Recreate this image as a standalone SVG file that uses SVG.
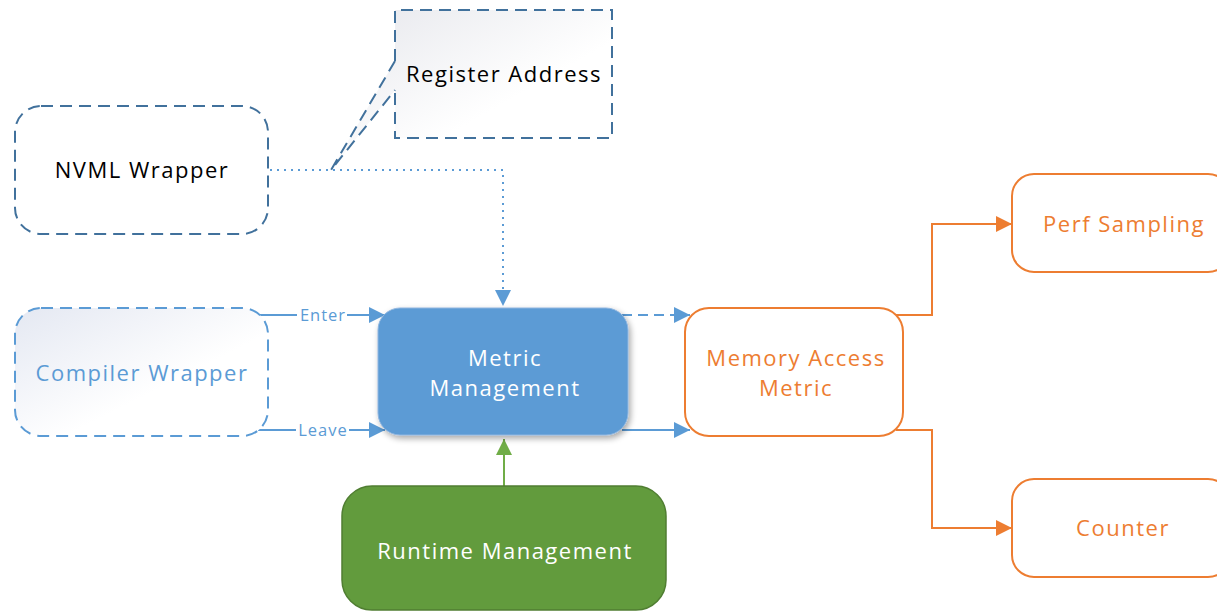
<svg xmlns="http://www.w3.org/2000/svg" width="1217" height="613" viewBox="0 0 1217 613">
<defs>
<linearGradient id="gGray" x1="0" y1="0" x2="1" y2="1"><stop offset="0" stop-color="#e6e7ec"/><stop offset="0.6" stop-color="#ffffff"/></linearGradient>
<linearGradient id="gBlue" x1="0" y1="0" x2="1" y2="1"><stop offset="0" stop-color="#e4e8f2"/><stop offset="0.6" stop-color="#ffffff"/></linearGradient>
<filter id="sh" x="-10%" y="-10%" width="125%" height="130%"><feGaussianBlur in="SourceAlpha" stdDeviation="3"/><feOffset dx="2" dy="3"/><feComponentTransfer><feFuncA type="linear" slope="0.35"/></feComponentTransfer><feMerge><feMergeNode/><feMergeNode in="SourceGraphic"/></feMerge></filter>
<marker id="aB" viewBox="0 0 10 10" refX="10" refY="5" markerWidth="18" markerHeight="16" markerUnits="userSpaceOnUse" orient="auto"><path d="M0,0 L10,5 L0,10 z" fill="#5b9bd5"/></marker>
<marker id="aO" viewBox="0 0 10 10" refX="10" refY="5" markerWidth="18" markerHeight="16" markerUnits="userSpaceOnUse" orient="auto"><path d="M0,0 L10,5 L0,10 z" fill="#ed7d31"/></marker>
<marker id="aG" viewBox="0 0 10 10" refX="10" refY="5" markerWidth="18" markerHeight="16" markerUnits="userSpaceOnUse" orient="auto"><path d="M0,0 L10,5 L0,10 z" fill="#70ad47"/></marker>
</defs>
<style>
text{font-family:"Open Sans","Noto Sans",sans-serif;text-anchor:middle;}
.t{font-size:22px;letter-spacing:1.5px;}
.dk{fill:none;stroke:#41719c;stroke-width:2;stroke-dasharray:12 7;}
.lb{stroke:#5b9bd5;stroke-width:2;stroke-dasharray:12 7;}
.or{fill:#fff;stroke:#ed7d31;stroke-width:2;}
.c{fill:none;stroke-width:2;}
.lbl{font-size:16.5px;fill:#5b9bd5;letter-spacing:1px;}
</style>
<rect width="1217" height="613" fill="#fff"/>
<g id="connectors">
<path d="M270,170 H503 V306" class="c" stroke="#5b9bd5" stroke-dasharray="2 5" marker-end="url(#aB)"/>
<path d="M258,315 H385" class="c" stroke="#5b9bd5" marker-end="url(#aB)"/>
<path d="M258,430 H385" class="c" stroke="#5b9bd5" marker-end="url(#aB)"/>
<path d="M622,315 H690" class="c" stroke="#5b9bd5" stroke-dasharray="10 6" marker-end="url(#aB)"/>
<path d="M622,430 H690" class="c" stroke="#5b9bd5" marker-end="url(#aB)"/>
<path d="M504,486 V439" class="c" stroke="#70ad47" stroke-width="2.5" marker-end="url(#aG)"/>
<path d="M896,315 H932 V224 H1012" class="c" stroke="#ed7d31" stroke-width="2.5" marker-end="url(#aO)"/>
<path d="M896,430 H932 V528 H1012" class="c" stroke="#ed7d31" stroke-width="2.5" marker-end="url(#aO)"/>
<rect x="297" y="307" width="50" height="17" fill="#fff"/>
<text x="323" y="321" class="lbl">Enter</text>
<rect x="296" y="422" width="53" height="17" fill="#fff"/>
<text x="323" y="436" class="lbl">Leave</text>
</g>
<g id="register-address">
<path d="M395,10 H612 V138 H395 V90 L331,170 L395,61 Z" fill="url(#gGray)" stroke="none"/>
<path d="M395,61 V10 H612 V138 H395 V90" class="dk"/>
<path d="M395,61 L331,170 L395,90" class="dk"/>
<text x="504" y="82" class="t" fill="#000">Register Address</text>
</g>
<g id="nvml-wrapper">
<rect x="15" y="106" width="253" height="128" rx="26" fill="#fff" class="dk"/>
<text x="142" y="178" class="t" fill="#000">NVML Wrapper</text>
</g>
<g id="compiler-wrapper">
<rect x="15" y="308" width="253" height="128" rx="26" fill="url(#gBlue)" class="lb"/>
<text x="142" y="381" class="t" fill="#5b9bd5">Compiler Wrapper</text>
</g>
<g id="metric-management">
<rect x="378" y="308" width="250" height="127" rx="22" fill="#5b9bd5" stroke="#8fb5df" stroke-width="1" filter="url(#sh)"/>
<text x="505" y="366" class="t" fill="#fff">Metric</text>
<text x="505" y="396" class="t" fill="#fff">Management</text>
</g>
<g id="memory-access-metric">
<rect x="685" y="308" width="218" height="128" rx="24" class="or"/>
<text x="796" y="366" class="t" fill="#ed7d31">Memory Access</text>
<text x="796" y="396" class="t" fill="#ed7d31">Metric</text>
</g>
<g id="perf-sampling">
<rect x="1012" y="174" width="218" height="98" rx="22" class="or"/>
<text x="1124" y="232" class="t" fill="#ed7d31">Perf Sampling</text>
</g>
<g id="counter">
<rect x="1012" y="479" width="218" height="98" rx="22" class="or"/>
<text x="1123" y="536" class="t" fill="#ed7d31">Counter</text>
</g>
<g id="runtime-management">
<rect x="342" y="486" width="324" height="124" rx="30" fill="#629b3d" stroke="#507e32" stroke-width="1.5"/>
<text x="505" y="559" class="t" fill="#fff">Runtime Management</text>
</g>
</svg>
